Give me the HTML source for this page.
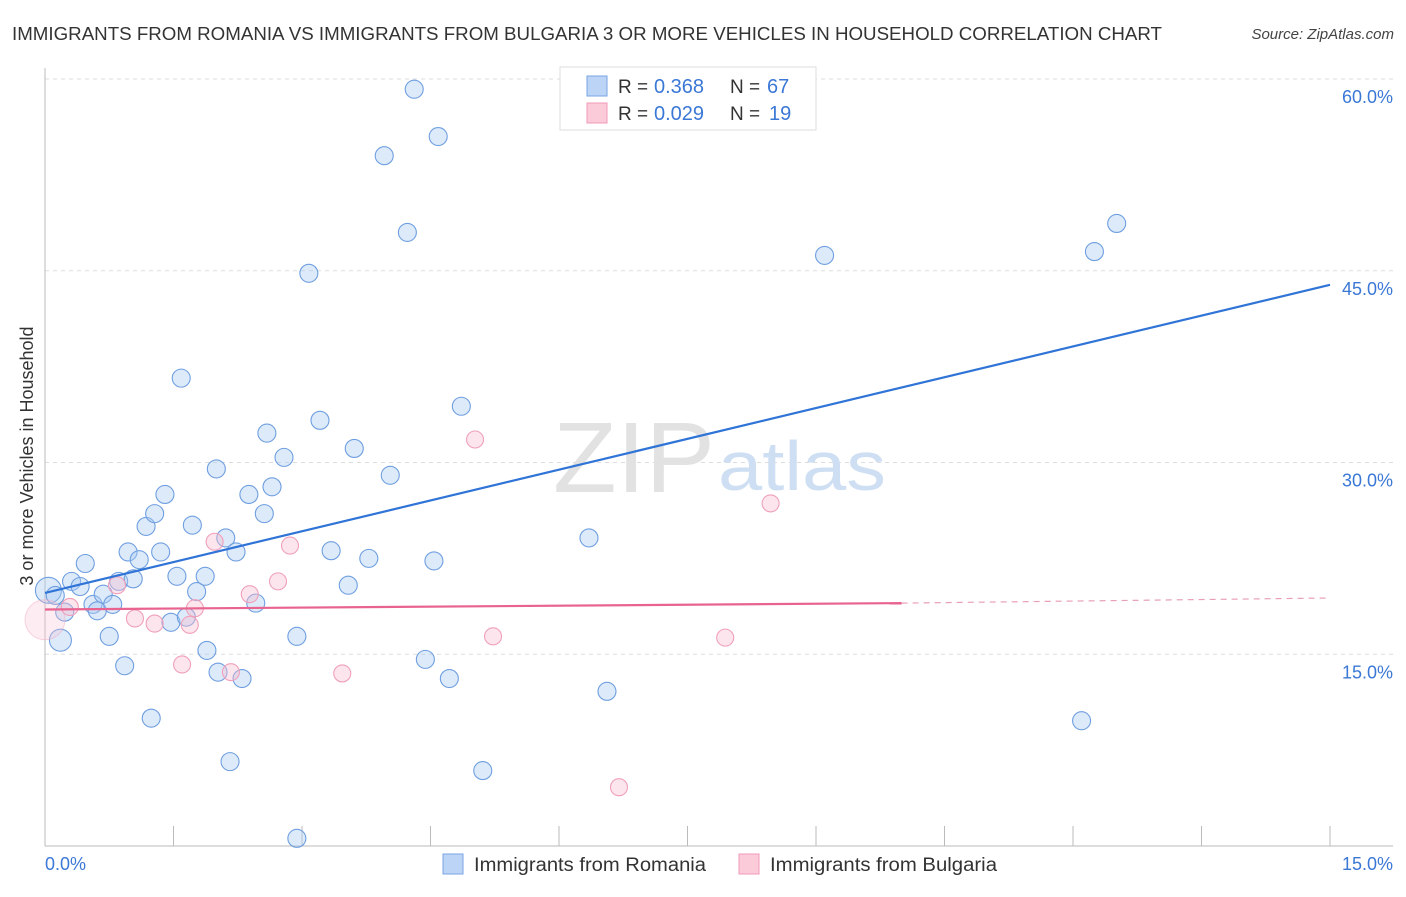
<!DOCTYPE html>
<html><head><meta charset="utf-8"><style>
body{margin:0;background:#fff;font-family:"Liberation Sans",sans-serif;}
svg text{font-family:"Liberation Sans",sans-serif;}
</style></head><body>
<svg width="1406" height="892" viewBox="0 0 1406 892" xmlns="http://www.w3.org/2000/svg">
<text x="12" y="40" font-size="18" fill="#333" textLength="1150" lengthAdjust="spacingAndGlyphs">IMMIGRANTS FROM ROMANIA VS IMMIGRANTS FROM BULGARIA 3 OR MORE VEHICLES IN HOUSEHOLD CORRELATION CHART</text>
<text x="1394" y="39" font-size="15" fill="#444" font-style="italic" text-anchor="end">Source: ZipAtlas.com</text>
<g id="grid"></g>
<text x="553" y="492" font-size="100" fill="#e2e2e2" font-family="Liberation Serif" textLength="162" lengthAdjust="spacingAndGlyphs">ZIP</text>
<text x="718" y="490" font-size="70" fill="#cfdff3" textLength="168" lengthAdjust="spacingAndGlyphs">atlas</text>
<g id="marks"></g>
<text x="33" y="456" font-size="18" fill="#333" text-anchor="middle" transform="rotate(-90 33 456)">3 or more Vehicles in Household</text>
<text x="45" y="870" font-size="18" fill="#3b78d6">0.0%</text>
<text x="1393" y="870" font-size="18" fill="#3b78d6" text-anchor="end">15.0%</text>
<g>
<rect x="560" y="67" width="256" height="63" fill="#fff" stroke="#ddd"/>
<rect x="587" y="76" width="20" height="20" fill="#bcd4f5" stroke="#7aa6e6"/>
<rect x="587" y="103" width="20" height="20" fill="#fbcbd9" stroke="#f09ab6"/>
<text x="618" y="93" font-size="19" fill="#333">R = <tspan x="654" fill="#3b78d6" font-size="20">0.368</tspan></text>
<text x="730" y="93" font-size="19" fill="#333">N = <tspan x="767" fill="#3b78d6" font-size="20">67</tspan></text>
<text x="618" y="120" font-size="19" fill="#333">R = <tspan x="654" fill="#3b78d6" font-size="20">0.029</tspan></text>
<text x="730" y="120" font-size="19" fill="#333">N = <tspan x="769" fill="#3b78d6" font-size="20">19</tspan></text>
</g>
<g>
<rect x="443" y="854" width="20" height="20" fill="#bcd4f5" stroke="#7aa6e6"/>
<text x="474" y="871" font-size="19" fill="#333" textLength="232" lengthAdjust="spacingAndGlyphs">Immigrants from Romania</text>
<rect x="739" y="854" width="20" height="20" fill="#fbcbd9" stroke="#f09ab6"/>
<text x="770" y="871" font-size="19" fill="#333" textLength="227" lengthAdjust="spacingAndGlyphs">Immigrants from Bulgaria</text>
</g>
</svg>
<script>
const yTicks=[15,30,45,60];
const yTickLabels=["15.0%","30.0%","45.0%","60.0%"];
const romaniaX=[0.04,0.18,0.12,0.23,0.31,0.41,0.47,0.56,0.61,0.68,0.75,0.79,0.86,0.93,0.97,1.03,1.10,1.18,1.24,1.28,1.35,1.40,1.47,1.54,1.59,1.65,1.72,1.77,1.87,1.89,2.0,2.02,2.11,2.16,2.23,2.30,2.38,2.46,2.56,2.59,2.65,2.79,2.94,2.94,3.08,3.21,3.34,3.54,3.61,3.78,3.96,4.03,4.23,4.31,4.44,4.54,4.59,4.72,4.86,5.11,6.35,6.56,9.10,12.10,12.25,12.51];
const romaniaY=[20.0,16.1,19.6,18.3,20.7,20.3,22.1,18.9,18.4,19.7,16.4,18.9,20.7,14.1,23.0,20.9,22.4,25.0,10.0,26.0,23.0,27.5,17.5,21.1,36.6,17.9,25.1,19.9,21.1,15.3,29.5,13.6,24.1,6.6,23.0,13.1,27.5,19.0,26.0,32.3,28.1,30.4,16.4,0.6,44.8,33.3,23.1,20.4,31.1,22.5,54.0,29.0,48.0,59.2,14.6,22.3,55.5,13.1,34.4,5.9,24.1,12.1,46.2,9.8,46.5,48.7];
const bulgariaX=[0,0.29,0.84,1.05,1.28,1.60,1.69,1.75,1.98,2.17,2.39,2.72,2.86,3.47,5.02,5.23,6.70,7.94,8.47];
const bulgariaY=[17.7,18.7,20.4,17.8,17.4,14.2,17.3,18.6,23.8,13.6,19.7,20.7,23.5,13.5,31.8,16.4,4.6,16.3,26.8];
const romaniaTrend=[19.8,43.9];
const bulgariaTrend=[18.5,19.0,19.4];
const NS="http://www.w3.org/2000/svg";
const xs=v=>45+v/15*1285;
const ys=v=>846-v/15*191.75;
function mk(t,a,p){const e=document.createElementNS(NS,t);for(const k in a)e.setAttribute(k,a[k]);p.appendChild(e);return e;}
const grid=document.getElementById('grid'),marks=document.getElementById('marks');
yTicks.forEach((t,i)=>{
 const l=mk('line',{x1:45,x2:1393,y1:ys(t),y2:ys(t),stroke:'#ddd','stroke-dasharray':'4,4'},grid);
 
 
 const tx=mk('text',{x:1393,y:ys(t)+24,'font-size':18,fill:'#3b78d6','text-anchor':'end'},grid);
 tx.textContent=yTickLabels[i];
 
 
});
const ax=mk('line',{x1:45,x2:45,y1:68,y2:846,stroke:'#bbb'},grid);


const bx=mk('line',{x1:45,x2:1393,y1:846,y2:846,stroke:'#bbb'},grid);


for(let i=1;i<=10;i++){const t=mk('line',{x1:xs(i*1.5),x2:xs(i*1.5),y1:826,y2:846,stroke:'#bbb'},grid);
 
 }
romaniaX.forEach((x,i)=>{const r=i<2?(i==0?13:11):9;
 const c=mk('circle',{cx:xs(x),cy:ys(romaniaY[i]),r:r,fill:'rgba(170,202,242,0.4)',stroke:'#6f9fe0','stroke-width':1.1},marks);
 
 });
bulgariaX.forEach((x,i)=>{const r=i==0?20:8.5;
 const c=mk('circle',{cx:xs(x),cy:ys(bulgariaY[i]),r:r,fill:i==0?'rgba(248,195,212,0.3)':'rgba(248,190,208,0.4)',stroke:i==0?'rgba(240,160,186,0.4)':'#f0a0ba','stroke-width':1.1},marks);
 
 });
const tl=mk('line',{x1:xs(0),y1:ys(romaniaTrend[0]),x2:xs(15),y2:ys(romaniaTrend[1]),stroke:'#2f74d6','stroke-width':2.2},marks);


const pl=mk('line',{x1:xs(0),y1:ys(bulgariaTrend[0]),x2:xs(10),y2:ys(bulgariaTrend[1]),stroke:'#e8638f','stroke-width':2.2},marks);


const pd=mk('line',{x1:xs(10),y1:ys(bulgariaTrend[1]),x2:xs(15),y2:ys(bulgariaTrend[2]),stroke:'#e8a0b8','stroke-width':1.2,'stroke-dasharray':'6,5'},marks);


</script>
</body></html>
